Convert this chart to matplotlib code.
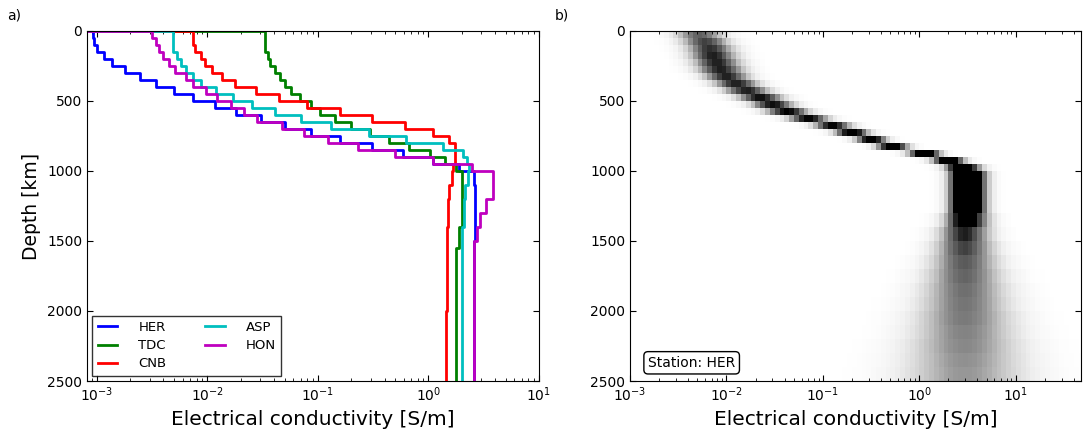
import matplotlib
matplotlib.use('Agg')
import matplotlib.pyplot as plt
import numpy as np

# depth layers, 50 km thick
depth_edges = np.arange(0, 2550, 50)

# log10 conductivity per layer for each station
stations = ['HER', 'TDC', 'CNB', 'ASP', 'HON']
colors = ['b', 'g', 'r', 'c', 'm']

her = [-3.04, -3.03, -3.00, -2.94, -2.86, -2.75, -2.61, -2.47, -2.30, -2.13,
       -1.93, -1.74, -1.52, -1.30, -1.06, -0.80, -0.51, -0.23, 0.04, 0.28,
       0.41, 0.41, 0.42, 0.42, 0.42, 0.42, 0.42, 0.42, 0.42, 0.42,
       0.41, 0.41, 0.41, 0.41, 0.41, 0.41, 0.41, 0.41, 0.41, 0.41,
       0.41, 0.41, 0.41, 0.41, 0.41, 0.41, 0.41, 0.41, 0.41, 0.41]
tdc = [-1.48, -1.48, -1.48, -1.45, -1.43, -1.39, -1.34, -1.30, -1.24, -1.16,
       -1.06, -0.98, -0.85, -0.70, -0.53, -0.36, -0.18, 0.01, 0.15, 0.25,
       0.30, 0.30, 0.30, 0.30, 0.30, 0.30, 0.30, 0.30, 0.28, 0.28,
       0.28, 0.25, 0.25, 0.25, 0.25, 0.25, 0.25, 0.25, 0.25, 0.25,
       0.25, 0.25, 0.25, 0.25, 0.25, 0.25, 0.25, 0.25, 0.25, 0.25]
cnb = [-2.13, -2.13, -2.11, -2.06, -2.02, -1.96, -1.87, -1.75, -1.56, -1.35,
       -1.10, -0.80, -0.51, -0.21, 0.04, 0.19, 0.24, 0.24, 0.24, 0.22,
       0.21, 0.21, 0.19, 0.19, 0.18, 0.18, 0.18, 0.18, 0.17, 0.17,
       0.17, 0.17, 0.17, 0.17, 0.17, 0.17, 0.17, 0.17, 0.17, 0.17,
       0.16, 0.16, 0.16, 0.16, 0.16, 0.16, 0.16, 0.16, 0.16, 0.16]
asp = [-2.31, -2.31, -2.31, -2.28, -2.24, -2.19, -2.13, -2.06, -1.92, -1.77,
       -1.60, -1.39, -1.15, -0.88, -0.54, -0.20, 0.13, 0.31, 0.35, 0.37,
       0.36, 0.36, 0.33, 0.33, 0.32, 0.32, 0.32, 0.32, 0.30, 0.30,
       0.30, 0.30, 0.30, 0.30, 0.30, 0.30, 0.30, 0.30, 0.30, 0.30,
       0.30, 0.30, 0.30, 0.30, 0.30, 0.30, 0.30, 0.30, 0.30, 0.30]
hon = [-2.50, -2.47, -2.44, -2.40, -2.35, -2.29, -2.19, -2.13, -2.01, -1.91,
       -1.79, -1.67, -1.55, -1.33, -1.13, -0.91, -0.64, -0.30, 0.04, 0.39,
       0.58, 0.58, 0.58, 0.58, 0.52, 0.52, 0.47, 0.47, 0.44, 0.44,
       0.41, 0.41, 0.41, 0.41, 0.41, 0.41, 0.41, 0.41, 0.41, 0.41,
       0.41, 0.41, 0.41, 0.41, 0.41, 0.41, 0.41, 0.41, 0.41, 0.41]
profiles = [her, tdc, cnb, asp, hon]

# panel b: density of HER models per layer (peak position, spread, peak darkness)
hm_center = [-2.28, -2.22, -2.17, -2.14, -2.10, -2.06, -2.00, -1.90, -1.79, -1.65,
             -1.52, -1.37, -1.15, -0.90, -0.70, -0.50, -0.28, 0.05, 0.30, 0.45,
             0.50, 0.50, 0.50, 0.50, 0.50, 0.50, 0.49, 0.49, 0.47, 0.47,
             0.47, 0.47, 0.47, 0.47, 0.47, 0.47, 0.47, 0.47, 0.47, 0.47,
             0.47, 0.47, 0.47, 0.47, 0.47, 0.47, 0.47, 0.47, 0.47, 0.47]
hm_spread = [0.17, 0.17, 0.17, 0.17, 0.17, 0.17, 0.16, 0.16, 0.16, 0.16,
             0.15, 0.15, 0.14, 0.13, 0.12, 0.11, 0.11, 0.11, 0.11, 0.12,
             0.12, 0.12, 0.12, 0.12, 0.12, 0.12, 0.15, 0.15, 0.18, 0.18,
             0.21, 0.21, 0.24, 0.24, 0.27, 0.27, 0.30, 0.30, 0.32, 0.32,
             0.35, 0.35, 0.37, 0.37, 0.40, 0.40, 0.42, 0.42, 0.44, 0.44]
hm_peak = [0.70, 0.80, 0.85, 0.90, 0.90, 0.90, 0.90, 0.90, 0.90, 0.95,
           0.95, 1.00, 1.00, 1.00, 1.10, 1.10, 1.20, 1.30, 1.30, 1.40,
           1.80, 1.80, 1.80, 1.80, 1.80, 1.80, 1.20, 1.20, 0.90, 0.90,
           0.80, 0.80, 0.72, 0.72, 0.68, 0.68, 0.64, 0.64, 0.62, 0.62,
           0.60, 0.60, 0.57, 0.57, 0.55, 0.55, 0.52, 0.52, 0.50, 0.50]

plt.rcParams['xtick.direction'] = 'in'
plt.rcParams['ytick.direction'] = 'in'
plt.rcParams['xtick.top'] = True
plt.rcParams['ytick.right'] = True
plt.rcParams['xtick.major.size'] = 4
plt.rcParams['ytick.major.size'] = 4
plt.rcParams['xtick.minor.size'] = 2
plt.rcParams['font.size'] = 10

fig = plt.figure(figsize=(10.83, 4.32), dpi=100)
ax1 = fig.add_axes([87/1083, 51/432, 452/1083, 350/432])
ax2 = fig.add_axes([630/1083, 51/432, 451/1083, 350/432])

# panel a: step profiles
for name, c, p in zip(stations, colors, profiles):
    sig = 10**np.array(p)
    x = np.concatenate([[1e-6], np.repeat(sig, 2)])
    y = np.concatenate([[0], np.repeat(depth_edges, 2)[1:-1]])
    ax1.plot(x, y, color=c, lw=2, label=name)

ax1.set_xscale('log')
ax1.set_xlim(10**-3.09, 10)
ax1.set_ylim(2500, 0)
ax1.set_yticks([0, 500, 1000, 1500, 2000, 2500])
ax1.set_xlabel('Electrical conductivity [S/m]', fontsize=14.5)
ax1.set_ylabel('Depth [km]', fontsize=13.5)
ax1.legend(loc='lower left', ncol=2, fancybox=False, edgecolor='k',
           handlelength=1.5, handletextpad=1.6, columnspacing=2.9,
           labelspacing=0.4, fontsize=9.5, borderaxespad=0.4)
fig.text(0.007, 0.955, 'a)', fontsize=10)

# panel b: model density
xe = np.arange(-3.0, 1.75, 0.05)
xc = 0.5*(xe[1:] + xe[:-1])
Z = np.zeros((len(hm_center), len(xc)))
for k in range(len(hm_center)):
    Z[k] = hm_peak[k]*np.exp(-0.5*((xc - hm_center[k])/hm_spread[k])**2)
Z = np.clip(Z, 0, 1)
ax2.pcolormesh(10**xe, depth_edges, Z, cmap='Greys', vmin=0, vmax=1)
ax2.set_xscale('log')
ax2.set_xlim(1e-3, 10**1.675)
ax2.set_ylim(2500, 0)
ax2.set_yticks([0, 500, 1000, 1500, 2000, 2500])
ax2.set_xticks([1e-3, 1e-2, 1e-1, 1, 10])
ax2.set_xlabel('Electrical conductivity [S/m]', fontsize=14.5)
ax2.text(0.04, 0.052, 'Station: HER', transform=ax2.transAxes, va='center',
         fontsize=10, bbox=dict(boxstyle='round,pad=0.3', fc='w', ec='k'))
fig.text(0.512, 0.955, 'b)', fontsize=10)

fig.savefig('out.png', dpi=100)
